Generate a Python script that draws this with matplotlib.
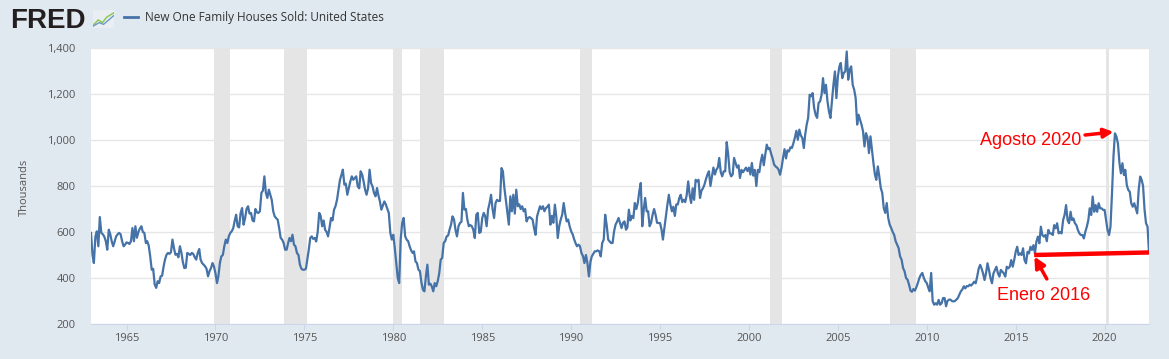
import datetime as dt
import numpy as np
import pandas as pd
import matplotlib
matplotlib.use("Agg")
import matplotlib.pyplot as plt
from matplotlib.ticker import FuncFormatter
from matplotlib.lines import Line2D

plt.rcParams['font.family'] = ['Open Sans', 'DejaVu Sans']

# New one family houses sold, thousands (SAAR), monthly Jan 1963 - Jul 2022
sales_1960s = [
    596, 500, 465, 580, 603, 538, 665, 596, 590, 580, 560, 523,   # 1963
    610, 590, 560, 538, 560, 581, 590, 596, 590, 560, 538, 545,   # 1964
    555, 552, 548, 560, 617, 560, 625, 575, 600, 615, 625, 600,   # 1965
    596, 552, 560, 540, 494, 436, 440, 372, 357, 386, 378, 407,   # 1966
    410, 451, 480, 501, 509, 505, 512, 567, 530, 501, 505, 490,   # 1967
    538, 510, 470, 443, 445, 509, 505, 500, 509, 505, 490, 480,   # 1968
    509, 526, 480, 465, 458, 451, 440, 407, 430, 443, 465, 450,   # 1969
]
sales_1970s = [
    420, 378, 407, 465, 494, 500, 538, 567, 552, 581, 596, 603,
    617, 650, 675, 625, 620, 683, 704, 632, 660, 700, 712, 680,
    683, 650, 646, 700, 685, 683, 690, 770, 780, 842, 770, 748,
    784, 760, 740, 690, 668, 660, 654, 617, 574, 567, 552, 523,
    523, 552, 574, 560, 588, 545, 538, 509, 500, 458, 440, 436,
    436, 440, 480, 523, 574, 581, 570, 574, 559, 600, 683, 670,
    625, 650, 610, 600, 581, 620, 661, 650, 697, 712, 740, 784,
    827, 849, 871, 806, 810, 762, 790, 820, 842, 827, 835, 842,
    798, 790, 864, 850, 820, 784, 762, 790, 871, 813, 798, 770,
    755, 791, 760, 733, 697, 715, 733, 720, 700, 683, 596, 567,
]
sales_1980s = [
    588, 530, 465, 400, 378, 567, 639, 661, 581, 567, 560, 538,
    520, 509, 516, 472, 465, 436, 430, 380, 349, 342, 407, 458,
    371, 375, 364, 342, 378, 364, 386, 420, 480, 487, 552, 560,
    581, 585, 610, 632, 668, 655, 610, 581, 625, 639, 645, 770,
    697, 700, 654, 625, 630, 625, 610, 574, 675, 683, 596, 600,
    661, 683, 670, 625, 697, 726, 762, 700, 661, 726, 740, 735,
    735, 878, 864, 791, 740, 683, 632, 755, 690, 762, 680, 784,
    712, 720, 700, 712, 690, 700, 646, 661, 665, 660, 654, 617,
    588, 668, 690, 712, 700, 712, 690, 704, 710, 719, 632, 670,
    640, 719, 670, 574, 625, 654, 675, 726, 680, 646, 654, 625,
]
sales_1990s = [
    603, 590, 570, 552, 538, 545, 538, 509, 495, 465, 500, 465,
    407, 470, 494, 505, 516, 516, 520, 516, 494, 552, 567, 675,
    630, 567, 559, 552, 552, 603, 632, 645, 661, 640, 617, 640,
    646, 610, 620, 697, 650, 670, 660, 726, 700, 726, 777, 813,
    625, 700, 748, 690, 690, 625, 640, 675, 700, 675, 640, 639,
    639, 610, 567, 620, 668, 719, 762, 720, 690, 710, 670, 720,
    720, 748, 762, 730, 740, 730, 760, 820, 760, 726, 790, 740,
    827, 820, 827, 748, 780, 790, 806, 830, 850, 864, 800, 840,
    880, 850, 870, 880, 922, 860, 842, 864, 864, 991, 936, 860,
    842, 850, 922, 900, 880, 890, 835, 870, 860, 870, 880, 865,
]
sales_2000s = [
    880, 850, 900, 845, 870, 800, 870, 860, 907, 936, 890, 936,
    980, 960, 965, 940, 920, 893, 885, 880, 871, 849, 880, 922,
    960, 920, 955, 950, 968, 965, 985, 1010, 1040, 1001, 1045, 1020,
    1009, 965, 1023, 1067, 1096, 1197, 1190, 1204, 1139, 1110, 1096, 1161,
    1168, 1197, 1269, 1204, 1240, 1168, 1125, 1096, 1168, 1240, 1298, 1182,
    1277, 1320, 1335, 1269, 1291, 1298, 1385, 1262, 1306, 1320, 1240, 1219,
    1182, 1067, 1110, 1088, 1067, 1038, 972, 1030, 1010, 943, 1016, 958,
    900, 849, 827, 885, 842, 791, 770, 704, 683, 726, 661, 632,
    617, 600, 588, 560, 545, 530, 494, 480, 443, 429, 400, 393,
    371, 345, 340, 352, 345, 360, 378, 400, 414, 422, 400, 386,
]
sales_2010s = [
    378, 357, 342, 422, 300, 284, 290, 284, 305, 284, 290, 313,
    313, 277, 300, 306, 306, 300, 298, 300, 306, 313, 328, 342,
    350, 364, 355, 365, 364, 371, 367, 375, 384, 377, 406, 440,
    457, 440, 420, 391, 420, 464, 435, 400, 377, 420, 435, 449,
    420, 406, 435, 428, 420, 406, 449, 442, 449, 478, 449, 478,
    514, 536, 500, 507, 500, 529, 478, 464, 514, 507, 536, 522,
    543, 507, 558, 580, 551, 623, 587, 580, 587, 560, 609, 594,
    594, 587, 630, 616, 638, 594, 600, 594, 652, 674, 717, 652,
    638, 688, 652, 659, 638, 630, 609, 594, 587, 587, 572, 601,
    623, 652, 703, 674, 754, 688, 717, 688, 725, 703, 703, 696,
]
sales_2020s = [
    696, 652, 609, 587, 623, 768, 928, 1029, 1014, 985, 900, 855,
    899, 848, 870, 804, 783, 775, 725, 710, 725, 703, 681, 783,
    841, 826, 800, 696, 638, 623, 511,
]

recession_starts = ['1969-12-01', '1973-11-01', '1980-01-01', '1981-07-01',
                    '1990-07-01', '2001-03-01', '2007-12-01', '2020-02-01']
recession_ends = ['1970-11-01', '1975-03-01', '1980-07-01', '1982-11-01',
                  '1991-03-01', '2001-11-01', '2009-06-01', '2020-04-01']

sales = np.array(sales_1960s + sales_1970s + sales_1980s + sales_1990s
                 + sales_2000s + sales_2010s + sales_2020s)
dates = pd.date_range('1963-01-01', periods=len(sales), freq='MS')

W, H = 1169, 359
fig = plt.figure(figsize=(W / 100, H / 100), dpi=100, facecolor='#e1e9f0')
ax = fig.add_axes([91 / W, 35 / H, 1058 / W, 276 / H])
ax.set_facecolor('white')

for s, e in zip(recession_starts, recession_ends):
    ax.axvspan(pd.Timestamp(s), pd.Timestamp(e), color='#e5e5e5', lw=0, zorder=1)

ax.plot(dates, sales, color='#4572a7', lw=1.6, zorder=3)

ax.set_xlim(dt.date(1963, 1, 1), dt.date(2022, 7, 1))
ax.set_ylim(200, 1400)
ax.set_yticks(range(200, 1401, 200))
ax.yaxis.set_major_formatter(FuncFormatter(lambda v, p: f'{int(v):,}'))
ax.set_xticks([dt.date(y, 1, 1) for y in range(1965, 2021, 5)])
ax.set_xticklabels([str(y) for y in range(1965, 2021, 5)])
ax.grid(axis='y', color='#e6e6e6', lw=1, zorder=0.5)
ax.set_axisbelow(True)

for side in ['top', 'right', 'left']:
    ax.spines[side].set_visible(False)
ax.spines['bottom'].set_color('#ccd6eb')
ax.tick_params(axis='y', length=0, pad=11, labelsize=8, labelcolor='#555555')
ax.tick_params(axis='x', length=4.5, color='#ccd6eb', pad=2, labelsize=8,
               labelcolor='#555555')

fig.text(24 / W, 1 - 187 / H, 'Thousands', rotation=90, ha='center',
         va='center', fontsize=8, color='#555555')

# header: FRED logo and legend
fig.text(10 / W, 1 - 28 / H, 'FRED', fontsize=20, fontweight='bold',
         family='Liberation Sans', color='#231f20', va='baseline')
icon = fig.add_axes([93 / W, 1 - 28 / H, 21 / W, 18 / H])
icon.set_facecolor('#e9eef2')
icon.plot([0, 0.25, 0.45, 0.65, 1], [0.15, 0.45, 0.3, 0.6, 0.85], color='#8bc34a', lw=1)
icon.plot([0, 0.3, 0.5, 0.75, 1], [0.1, 0.3, 0.2, 0.45, 0.7], color='#6b9bc3', lw=1)
icon.set_xlim(0, 1)
icon.set_ylim(0, 1)
icon.set_xticks([])
icon.set_yticks([])
for sp in icon.spines.values():
    sp.set_visible(False)
fig.add_artist(Line2D([124 / W, 138 / W], [1 - 17 / H, 1 - 17 / H],
                      color='#4572a7', lw=2, transform=fig.transFigure))
fig.text(145 / W, 1 - 17 / H, 'New One Family Houses Sold: United States',
         fontsize=8.5, color='#333333', va='center')

# red annotations
red = '#ff0000'
ax.annotate('Agosto 2020', xy=(dt.date(2020, 7, 1), 1035),
            xytext=(dt.date(2018, 9, 1), 996), ha='right', va='center',
            fontsize=13, color=red, family='Liberation Sans',
            arrowprops=dict(arrowstyle='-|>', color=red, lw=2.5,
                            mutation_scale=14, shrinkA=1, shrinkB=0))
ax.plot([dt.date(2016, 1, 15), dates[-1]], [500, sales[-1]], color=red,
        lw=3.2, solid_capstyle='butt', zorder=4)
ax.annotate('', xy=(dt.date(2016, 1, 20), 493), xytext=(dt.date(2016, 10, 1), 396),
            arrowprops=dict(arrowstyle='-|>', color=red, lw=2.5,
                            mutation_scale=16, shrinkA=0, shrinkB=0))
ax.text(dt.date(2016, 8, 1), 322, 'Enero 2016', ha='center', va='center',
        fontsize=13, color=red, family='Liberation Sans')

fig.savefig('out.png', dpi=100, facecolor=fig.get_facecolor())
